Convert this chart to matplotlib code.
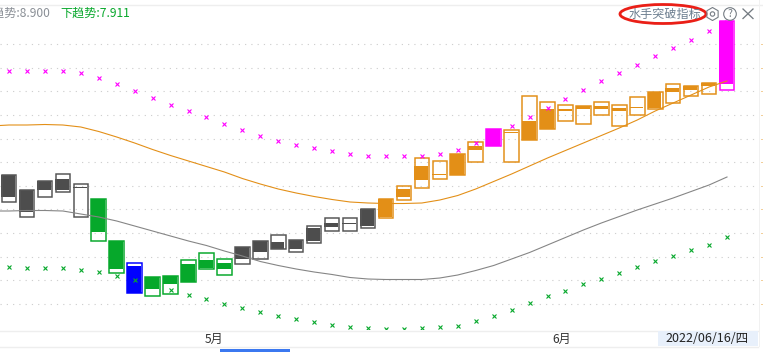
import matplotlib
matplotlib.use("Agg")
import matplotlib.pyplot as plt
from matplotlib.patches import Rectangle, Ellipse, Circle, RegularPolygon

plt.rcParams['font.family'] = ['Noto Sans CJK SC', 'DejaVu Sans']

W, H = 763, 352
PLOT_TOP, PLOT_BOTTOM, PLOT_RIGHT = 5, 329, 758
STEP = 17.95

# candle series (values read on the picture's vertical scale, larger = lower)
box_top = [175, 190, 181, 174, 184, 199, 241, 263, 277, 276, 260, 253, 259, 247, 241, 235, 240, 226, 218, 218, 209,
           199, 186, 158, 161, 154, 142, 129, 130, 96, 102, 105, 106, 102, 105, 97, 92, 84, 86, 83, 21]
box_bottom = [201.5, 217, 197, 191.5, 217, 241, 273, 293, 296, 294, 282, 269, 275, 264, 259, 249, 252, 243, 231, 231, 228,
              218, 200, 188, 179, 175, 162, 146, 162, 140, 129, 121, 124, 115, 126, 115, 109, 103, 96, 94, 90]
body_top = [175, 190, 181, 179, 187, 199, 241, 266, 277, 276, 264, 260, 263, 247, 241, 242, 240, 228, 223, 223, 209,
            199, 189, 166, 174, 154, 146, 129, 132, 121, 109, 109, 106, 106, 108, 107, 92, 88, 86, 83, 21]
body_bottom = [197, 212, 190, 190, 187.7, 232, 269, 293, 289, 284, 282, 268, 269, 259, 252, 249, 249, 241, 227, 223.7, 226,
               217, 197, 180, 174.7, 175, 150, 146, 133, 140, 129, 111, 109, 109, 111, 107.7, 108, 92, 90, 86, 84]
candle_groups = ['dark'] * 5 + ['green'] * 2 + ['blue'] + ['green'] * 5 + ['dark'] * 8 + ['orange'] * 6 + \
                ['magenta'] + ['orange'] * 12 + ['magenta']

# stop markers
upper_stops = [71, 71, 70.5, 71, 73, 78, 84, 90.5, 97.5, 105, 111, 117, 123.5, 130, 136, 141, 144.5, 148, 151, 154, 156,
               156, 156, 156, 154, 150, 143, 136, 126, 117, 108, 99, 90, 81, 73, 65, 56, 48, 40, 31, 22]
lower_stops = [267, 267.5, 268, 268, 270, 272, 276, 280, 286, 290, 295, 299, 304, 308, 312, 316, 319, 322, 325, 327, 327.5,
               328.5, 328.5, 327.5, 327, 325.5, 321, 316, 310, 303, 296, 291, 284, 279, 273, 267, 261, 256, 250, 245, 237]

# moving lines; first value belongs to the bar just left of the window
orange_line = [126, 125, 125, 124.5, 125, 127, 131.5, 137, 143, 149.5, 155.5, 161, 166.5, 172, 178.5, 184, 189, 193, 196.5,
               199.5, 202, 203, 203.5, 203.5, 203, 200, 195.5, 189, 181.5, 174, 166, 158, 150.5, 143, 135.5, 128, 120, 111,
               103, 95, 87, 81]
gray_line = [211, 211, 210.5, 210.5, 211, 214, 217, 221, 226, 231, 236, 241, 245.5, 251, 256, 261.5, 265.5, 269,
             272, 274.5, 277.5, 279, 279.5, 279.5, 279.5, 278, 275, 270.5, 265.5, 259, 252.5, 245, 237.5, 230, 223, 216.5,
             210, 204, 198, 191.5, 185, 177]
grid_levels = [44, 68, 91, 115, 139, 162, 186, 209, 233, 257, 280, 304]
right_marks = [44, 68, 91, 115, 139, 162, 186, 209, 233, 257, 280, 304]

month_labels = ['5月', '6月']
month_index = [11.4, 30.8]
date_label = '2022/06/16/四'
up_label = '上趋势:8.900'
down_label = '下趋势:7.911'
title_label = '水手突破指标'

colors = {'dark': '#4d4d4d', 'green': '#06a82b', 'blue': '#0000ff', 'orange': '#e38f17', 'magenta': '#ff00ff'}
edge = {'dark': '#555555', 'green': '#06a82b', 'blue': '#0000ff', 'orange': '#e38f17', 'magenta': '#ff00ff'}
px = 72 / 100

fig = plt.figure(figsize=(W / 100, H / 100), dpi=100, facecolor='white')

# chrome layer in pixels
bg = fig.add_axes([0, 0, 1, 1])
bg.set_xlim(0, W)
bg.set_ylim(H, 0)
bg.axis('off')
for y in (5, 330.5, 346.5):
    bg.plot([0, PLOT_RIGHT if y > 5 else W], [y, y], color='#eeeeee', lw=1.4 * px, zorder=1)
bg.plot([759, 759], [0, 346], color='#f1f1f1', lw=1 * px)
bg.add_patch(Rectangle((658, 331), 100, 15, fc='#e8f0fb', ec='none'))
bg.add_patch(Rectangle((220, 349.3), 70, 3, fc='#3b78f0', ec='none'))
for y in right_marks:
    bg.plot([761, 763], [y, y], color='#f2cf9a', lw=1 * px)

# plot layer
ax = fig.add_axes([0, 1 - PLOT_BOTTOM / H, PLOT_RIGHT / W, (PLOT_BOTTOM - PLOT_TOP) / H])
ax.patch.set_alpha(0)
ax.set_xlim(-9 / STEP, (PLOT_RIGHT - 9) / STEP)
ax.set_ylim(PLOT_BOTTOM, PLOT_TOP)
ax.axis('off')

for y in grid_levels:
    ax.axhline(y, color='#cfcfcf', lw=1.1 * px, dashes=(1.1, 4.6), zorder=1)

half = 7.3 / STEP
for i, (bt, bb, ft, fb, g) in enumerate(zip(box_top, box_bottom, body_top, body_bottom, candle_groups)):
    ax.add_patch(Rectangle((i - half - 0.02, ft), 2 * half - 0.04, fb - ft, fc=colors[g], ec='none', zorder=2))
    ax.add_patch(Rectangle((i - half, bt), 2 * half, bb - bt, fc='none', ec=edge[g], lw=1.5 * px, zorder=3))

idx = list(range(len(box_top)))
line_idx = list(range(-1, len(box_top)))
ax.plot(line_idx, orange_line, color='#e38f17', lw=1.1 * px, zorder=4)
ax.plot(line_idx, gray_line, color='#858585', lw=1.1 * px, zorder=4)
ax.plot(idx, upper_stops, ls='none', marker='x', ms=3.5, mew=0.8, color='#ff00ff', zorder=5)
ax.plot(idx, lower_stops, ls='none', marker='x', ms=3.5, mew=0.8, color='#06a82b', zorder=5)

# top layer: text and icons in pixels
fg = fig.add_axes([0, 0, 1, 1])
fg.set_xlim(0, W)
fg.set_ylim(H, 0)
fg.axis('off')
fg.patch.set_alpha(0)
fs = 8.7
fg.text(50, 13.5, up_label, ha='right', va='center', fontsize=fs, color='#8a8f96')
fg.text(60, 13.5, down_label, ha='left', va='center', fontsize=fs, color='#08a82c')
fg.text(665, 14, title_label, ha='center', va='center', fontsize=fs, color='#6d7f90')
fg.add_patch(Ellipse((663, 14), 86, 19, fc='none', ec='#ea1f17', lw=2.8 * px))
fg.add_patch(RegularPolygon((712.5, 14), 6, radius=6.5, fc='none', ec='#747b82', lw=1.1 * px))
fg.add_patch(Circle((712.5, 14), 2.2, fc='none', ec='#747b82', lw=1.1 * px))
fg.add_patch(Circle((730, 14), 6.3, fc='none', ec='#747b82', lw=1.1 * px))
fg.text(730, 14, '?', ha='center', va='center', fontsize=7.5, color='#747b82')
fg.plot([743, 753], [9, 18.5], color='#747b82', lw=1.3 * px)
fg.plot([743, 753], [18.5, 9], color='#747b82', lw=1.3 * px)
for lab, i in zip(month_labels, month_index):
    fg.text(9 + STEP * i, 339, lab, ha='center', va='center', fontsize=fs, color='#333333')
fg.text(707, 338.5, date_label, ha='center', va='center', fontsize=9.0, color='#222222')

fig.savefig('out.png', dpi=100, facecolor='white')
